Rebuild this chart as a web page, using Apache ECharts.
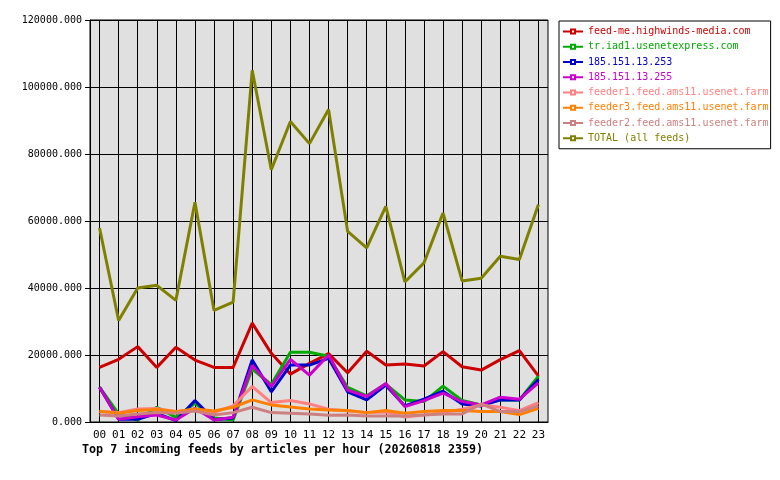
<!DOCTYPE html>
<html>
<head>
<meta charset="utf-8" />
<title>incoming feeds</title>
<script src="https://cdn.jsdelivr.net/npm/echarts@6/dist/echarts.min.js"></script>
<style>
  html, body { margin: 0; padding: 0; background: #fff; }
  #main { width: 780px; height: 480px; }
</style>
</head>
<body>
<div id="main"></div>
<script type="text/javascript">
// hours on the x axis
var hours = ['00','01','02','03','04','05','06','07','08','09','10','11',
             '12','13','14','15','16','17','18','19','20','21','22','23'];

// articles per hour
var feedMe   = [16300,18700,22500,16300,22300,18500,16300,16300,29500,20500,14300,17500,20400,14700,21100,17000,17300,16700,21000,16500,15500,18600,21300,13700];
var trIad1   = [10400,2400,600,4400,1400,5600,1200,600,15800,11200,20800,20800,19600,10300,7800,11300,6600,6100,10700,6400,5100,6600,6600,13700];
var ip253    = [10400,800,800,2600,400,6400,700,1200,18500,9000,17000,17000,19000,9000,6600,11000,4800,6800,9200,5400,4800,6600,6600,12700];
var ip255    = [10350,800,1600,2100,600,4100,600,1400,16900,10600,18700,14000,20000,9500,7600,11500,4600,6400,8600,6100,5100,7400,6800,11700];
var feeder1  = [3100,2800,3900,4000,3100,3700,2900,4800,10600,5800,6400,5400,3800,3300,2800,3000,1500,2100,2800,3800,5100,4400,3400,5800];
var feeder3  = [3200,2600,3400,3700,3100,3900,3300,4400,6600,5100,4500,3900,3600,3400,2800,3400,2600,3100,3400,3400,3100,3100,2200,4100];
var feeder2  = [2100,1800,2400,2800,2600,3300,2100,2800,4400,2800,2600,2400,2000,2100,1800,1800,1800,2100,2400,2400,5400,3100,3100,4800];
var total    = [57900,30300,40000,40800,36300,65600,33300,35800,105000,75300,89700,83100,93300,56900,52000,64400,41800,47500,62400,42100,42900,49500,48500,64900];

var names  = ['feed-me.highwinds-media.com','tr.iad1.usenetexpress.com','185.151.13.253','185.151.13.255',
              'feeder1.feed.ams11.usenet.farm','feeder3.feed.ams11.usenet.farm','feeder2.feed.ams11.usenet.farm','TOTAL (all feeds)'];
var values = [feedMe, trIad1, ip253, ip255, feeder1, feeder3, feeder2, total];
var colors = ['#cc0000','#00aa00','#0000cc','#cc00cc','#ff8080','#ff8000','#cc8080','#808000'];

var mono = 'DejaVu Sans Mono';

var myChart = echarts.init(document.getElementById('main'));

var series = [];
for (var i = 0; i < names.length; i++) {
    series.push({
        name: names[i],
        type: 'line',
        data: values[i],
        symbol: 'rect',
        symbolSize: 4,
        showSymbol: false,
        lineStyle: { color: colors[i], width: 3 },
        itemStyle: { color: '#fff', borderColor: colors[i], borderWidth: 1 },
        emphasis: { disabled: true }
    });
}

var option = {
    animation: false,
    backgroundColor: '#fff',
    title: {
        text: 'Top 7 incoming feeds by articles per hour (20260818 2359)',
        left: 82,
        top: 444,
        padding: 0,
        textStyle: { fontFamily: mono, fontSize: 11.7, fontWeight: 'bold', color: '#000' }
    },
    legend: {
        orient: 'vertical',
        left: 559,
        top: 21,
        padding: [4, 2, 4, 3],
        itemWidth: 20,
        itemHeight: 5,
        itemGap: 2.25,
        backgroundColor: '#fff',
        borderColor: '#000',
        borderWidth: 1,
        borderRadius: 0,
        textStyle: { fontFamily: mono, fontSize: 10, lineHeight: 13 },
        data: names.map(function (n, i) {
            return { name: n, textStyle: { color: colors[i] } };
        })
    },
    grid: {
        left: 90, right: 232, top: 20, bottom: 58,
        show: true,
        backgroundColor: '#e0e0e0',
        borderColor: '#000',
        borderWidth: 1
    },
    xAxis: {
        type: 'category',
        data: hours,
        boundaryGap: true,
        axisLine: { show: true, lineStyle: { color: '#000', width: 1 } },
        axisTick: { show: false },
        axisLabel: { color: '#000', fontFamily: mono, fontSize: 11, margin: 8, interval: 0 },
        splitLine: { show: true, alignWithLabel: true, lineStyle: { color: '#000', width: 1 } }
    },
    yAxis: {
        type: 'value',
        min: 0,
        max: 120000,
        interval: 20000,
        axisLine: { show: true, lineStyle: { color: '#000', width: 1 } },
        axisTick: { show: true, length: 5, lineStyle: { color: '#000' } },
        axisLabel: {
            color: '#000', fontFamily: mono, fontSize: 10, margin: 8,
            formatter: function (v) { return v.toFixed(3); }
        },
        splitLine: { show: true, lineStyle: { color: '#000', width: 1 } }
    },
    series: series
};

myChart.setOption(option);
</script>
</body>
</html>
